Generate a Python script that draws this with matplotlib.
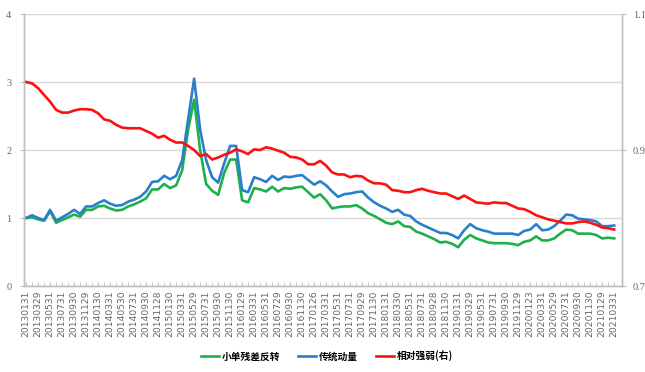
import matplotlib
matplotlib.use("Agg")
import matplotlib.pyplot as plt
import numpy as np

plt.rcParams['font.family'] = ['Noto Sans CJK SC', 'DejaVu Sans']

# tick labels every other month (2013-01 .. 2021-03, 99 monthly points)
x_labels = ["20130131", "20130329", "20130531", "20130731", "20130930", "20131129",
            "20140130", "20140331", "20140530", "20140731", "20140930", "20141128",
            "20150130", "20150331", "20150529", "20150731", "20150930", "20151130",
            "20160129", "20160331", "20160531", "20160729", "20160930", "20161130",
            "20170126", "20170331", "20170531", "20170731", "20170929", "20171130",
            "20180131", "20180330", "20180531", "20180731", "20180928", "20181130",
            "20190131", "20190329", "20190531", "20190731", "20190930", "20191129",
            "20200123", "20200331", "20200529", "20200731", "20200930", "20201130",
            "20210129", "20210331"]

small_order_residual_reversal = [
    1.00, 1.01, 0.98, 0.96, 1.10, 0.93, 0.97, 1.01, 1.05, 1.02,
    1.12, 1.12, 1.17, 1.18, 1.14, 1.11, 1.12, 1.17, 1.20, 1.24,
    1.29, 1.42, 1.42, 1.50, 1.44, 1.48, 1.70, 2.30, 2.74, 2.00,
    1.50, 1.40, 1.34, 1.66, 1.86, 1.86, 1.26, 1.23, 1.44, 1.42,
    1.39, 1.46, 1.39, 1.44, 1.43, 1.45, 1.46, 1.38, 1.30, 1.35,
    1.26, 1.14, 1.16, 1.17, 1.17, 1.19, 1.14, 1.07, 1.03, 0.98,
    0.93, 0.91, 0.95, 0.88, 0.87, 0.80, 0.77, 0.73, 0.69, 0.64,
    0.65, 0.62, 0.57, 0.68, 0.75, 0.70, 0.67, 0.64, 0.63, 0.63,
    0.63, 0.62, 0.60, 0.65, 0.67, 0.73, 0.67, 0.67, 0.70, 0.77,
    0.83, 0.82, 0.77, 0.77, 0.77, 0.75, 0.70, 0.71, 0.70]

traditional_momentum = [
    1.00, 1.04, 1.00, 0.97, 1.12, 0.96, 1.01, 1.06, 1.12, 1.06,
    1.17, 1.17, 1.22, 1.26, 1.21, 1.18, 1.19, 1.24, 1.27, 1.31,
    1.39, 1.53, 1.54, 1.62, 1.57, 1.62, 1.85, 2.45, 3.05, 2.30,
    1.85, 1.60, 1.52, 1.80, 2.06, 2.06, 1.41, 1.38, 1.60, 1.57,
    1.53, 1.62, 1.56, 1.61, 1.60, 1.62, 1.63, 1.56, 1.49, 1.54,
    1.48, 1.39, 1.31, 1.35, 1.36, 1.38, 1.39, 1.30, 1.23, 1.18,
    1.14, 1.09, 1.12, 1.05, 1.03, 0.95, 0.90, 0.86, 0.82, 0.78,
    0.78, 0.75, 0.70, 0.82, 0.91, 0.85, 0.82, 0.80, 0.77, 0.77,
    0.77, 0.77, 0.75, 0.81, 0.83, 0.91, 0.82, 0.83, 0.88, 0.96,
    1.05, 1.04, 0.99, 0.98, 0.97, 0.95, 0.88, 0.88, 0.89]

relative_strength_right = [
    1.000, 0.998, 0.991, 0.981, 0.971, 0.959, 0.955, 0.955, 0.958, 0.960,
    0.960, 0.959, 0.954, 0.945, 0.943, 0.937, 0.933, 0.932, 0.932, 0.932,
    0.928, 0.924, 0.918, 0.921, 0.915, 0.911, 0.911, 0.906, 0.900, 0.891,
    0.894, 0.886, 0.889, 0.893, 0.896, 0.901, 0.898, 0.894, 0.901, 0.900,
    0.904, 0.902, 0.899, 0.896, 0.890, 0.889, 0.886, 0.879, 0.879, 0.884,
    0.877, 0.867, 0.864, 0.864, 0.860, 0.862, 0.861, 0.855, 0.851, 0.851,
    0.849, 0.841, 0.840, 0.838, 0.838, 0.841, 0.843, 0.840, 0.838, 0.836,
    0.836, 0.832, 0.828, 0.833, 0.828, 0.823, 0.822, 0.821, 0.823, 0.822,
    0.822, 0.818, 0.814, 0.813, 0.809, 0.804, 0.801, 0.798, 0.796, 0.794,
    0.792, 0.792, 0.794, 0.795, 0.793, 0.790, 0.786, 0.785, 0.783]

series_names = ["小单残差反转", "传统动量", "相对强弱(右)"]
colors = ["#1DB04B", "#2A7FCB", "#FF1010"]

n = len(traditional_momentum)
x = np.arange(n)

fig = plt.figure(figsize=(6.45, 3.72), dpi=100)
ax = fig.add_axes([24/645, 1-286/372, (622-24)/645, (286-14)/372])
ax2 = ax.twinx()

grey = "#BFBFBF"
txt = "#666666"

l1, = ax.plot(x, small_order_residual_reversal, color=colors[0], lw=1.9, solid_joinstyle='round')
l2, = ax.plot(x, traditional_momentum, color=colors[1], lw=1.9, solid_joinstyle='round')
l3, = ax2.plot(x, relative_strength_right, color=colors[2], lw=1.9, solid_joinstyle='round')

ax.set_xlim(-0.35, 99.3)
ax.set_ylim(0, 4)
ax2.set_ylim(0.7, 1.1)
ax.set_yticks([0, 1, 2, 3, 4])
ax.set_yticklabels(["0", "1", "2", "3", "4"], family="Liberation Serif", fontsize=7.5, color=txt)
ax2.set_yticks([0.7, 0.9, 1.1])
ax2.set_yticklabels(["0.7", "0.9", "1.1"], family="Liberation Serif", fontsize=7.5, color=txt)

ax.yaxis.grid(True, color="#D9D9D9", lw=1.0)
ax.set_axisbelow(True)

ax.set_xticks(x[::2])
ax.set_xticklabels(x_labels, rotation=90, family="DejaVu Sans", fontsize=6.6, color=txt)
ax.set_xticks(x[1::2], minor=True)
ax.tick_params(axis='x', which='both', direction='in', length=3, color=grey, pad=3)
ax.tick_params(axis='y', direction='out', length=3, color=grey, pad=6)
ax2.tick_params(axis='y', direction='out', length=3, color=grey, pad=5)

for a in (ax, ax2):
    a.spines['top'].set_visible(False)
    for s in ('left', 'right', 'bottom'):
        a.spines[s].set_color(grey)
        a.spines[s].set_linewidth(1.0)

fig.legend([l1, l2, l3], series_names, loc='center', bbox_to_anchor=(327/645, 1-356/372),
           ncol=3, frameon=False, handlelength=1.9, handletextpad=0.3, columnspacing=1.8,
           prop={'family': ['Noto Sans CJK SC', 'DejaVu Sans'], 'size': 7, 'weight': 'bold'})

fig.savefig("out.png", dpi=100)
